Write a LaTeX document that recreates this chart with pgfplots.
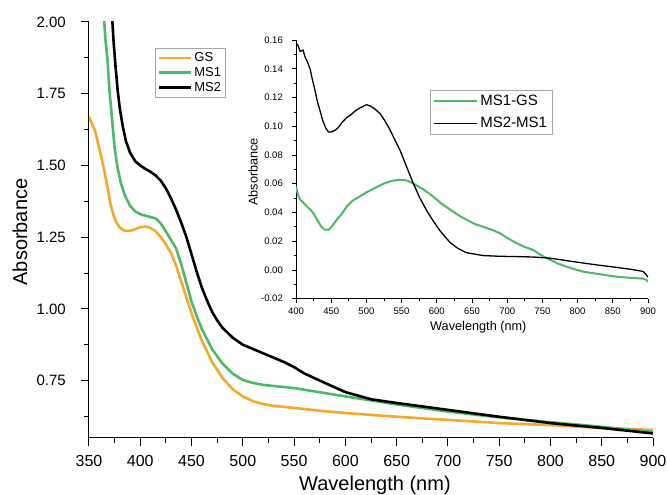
\documentclass[border=0pt]{standalone}
\usepackage{fontspec}
\setmainfont{Liberation Sans}
\usepackage{pgfplots}
\pgfplotsset{compat=1.18}

\definecolor{gsorange}{HTML}{F5A82E}
\definecolor{msgreen}{HTML}{4DB86A}

\begin{document}
\begin{tikzpicture}
\useasboundingbox (-89pt,-57pt) rectangle (578pt,438pt);
% main panel
\begin{axis}[
    name=main,
    at={(0pt,0pt)}, anchor=south west,
    scale only axis,
    width=564pt, height=416pt,
    xmin=350, xmax=900, ymin=0.55, ymax=2.0,
    axis x line*=bottom, axis y line*=left,
    axis line style={-, line width=1pt},
    xtick={350,400,...,900},
    minor xtick={375,425,...,875},
    ytick={0.75,1.0,1.25,1.5,1.75,2.0},
    minor ytick={0.625,0.875,1.125,1.375,1.625,1.875},
    tick align=outside,
    major tick length=8pt, minor tick length=5pt,
    tick style={line width=1pt, black},
    yticklabel style={/pgf/number format/fixed, /pgf/number format/fixed zerofill,
        /pgf/number format/precision=2, font=\fontsize{15}{17}\selectfont,
        anchor=east, inner sep=0pt, xshift=-15pt},
    xticklabel style={font=\fontsize{16}{18}\selectfont,
        anchor=north, inner sep=0pt, yshift=-9pt},
    /pgf/number format/assume math mode=true,
    xlabel={Wavelength (nm)}, ylabel={Absorbance},
    xlabel style={font=\fontsize{20}{24}\selectfont,
        at={(axis description cs:0.507,-0.114)}, anchor=center},
    ylabel style={font=\fontsize{20}{24}\selectfont,
        at={(axis description cs:-0.1223,0.495)}, anchor=center, rotate=0},
    legend style={at={(axis description cs:0.117,0.9375)}, anchor=north west,
        draw=gray!70, line width=0.6pt, font=\fontsize{13}{15}\selectfont,
        row sep=0pt, inner sep=2.5pt},
    legend cell align=left,
    legend image code/.code={\draw[#1] (0pt,0pt) -- (32pt,0pt);},
]
\addplot[gsorange, line width=2.6pt] coordinates {
(350,1.67) (353,1.645) (356,1.62) (359,1.575) (362,1.53) (365,1.48) (368,1.425)
(371,1.365) (374,1.325) (377,1.30) (380,1.283) (385,1.272) (390,1.272) (395,1.278)
(400,1.285) (405,1.287) (410,1.282) (415,1.27) (420,1.25) (425,1.225) (430,1.195)
(435,1.15) (440,1.095) (445,1.04) (450,0.985) (455,0.935) (460,0.89) (470,0.815)
(480,0.76) (490,0.72) (500,0.695) (510,0.678) (520,0.668) (530,0.662) (550,0.655)
(575,0.645) (600,0.637) (650,0.624) (700,0.613) (750,0.602) (800,0.595) (850,0.585) (900,0.578)};
\addlegendentry{GS}
\addplot[msgreen, line width=2.6pt] coordinates {
(364,2.05) (366,1.94) (368,1.87) (370,1.76) (372,1.68) (375,1.56) (378,1.49)
(381,1.44) (385,1.395) (390,1.36) (395,1.34) (400,1.33) (405,1.325) (410,1.32)
(415,1.315) (420,1.298) (425,1.27) (430,1.24) (435,1.21) (440,1.155) (445,1.09)
(450,1.025) (455,0.975) (460,0.93) (470,0.86) (480,0.81) (490,0.775) (500,0.752)
(510,0.742) (520,0.735) (550,0.724) (600,0.695) (650,0.667) (700,0.642) (750,0.622)
(800,0.605) (850,0.589) (900,0.571)};
\addlegendentry{MS1}
\addplot[black, line width=2.6pt] coordinates {
(372,2.05) (374,1.93) (376,1.84) (378,1.76) (380,1.70) (383,1.635) (386,1.585)
(390,1.545) (395,1.515) (400,1.50) (405,1.488) (410,1.478) (415,1.465) (420,1.447)
(425,1.42) (430,1.385) (435,1.345) (440,1.30) (445,1.25) (450,1.19) (455,1.13)
(460,1.075) (465,1.03) (470,0.99) (475,0.96) (480,0.935) (490,0.90) (500,0.875)
(510,0.86) (520,0.845) (530,0.83) (540,0.815) (550,0.797) (560,0.775) (575,0.75)
(600,0.71) (625,0.685) (650,0.672) (700,0.648) (750,0.624) (800,0.602) (850,0.585) (900,0.566)};
\addlegendentry{MS2}
\end{axis}

% inset panel
\begin{axis}[
    at={(207pt,139.3pt)}, anchor=south west,
    scale only axis,
    width=352pt, height=258.7pt,
    xmin=400, xmax=900, ymin=-0.02, ymax=0.16,
    axis x line*=bottom, axis y line*=left,
    axis line style={-, line width=0.8pt},
    xtick={400,450,...,900},
    minor xtick={425,475,...,875},
    ytick={-0.02,0,0.02,0.04,0.06,0.08,0.10,0.12,0.14,0.16},
    minor ytick={-0.01,0.01,0.03,0.05,0.07,0.09,0.11,0.13,0.15},
    tick align=outside,
    major tick length=4pt, minor tick length=2.5pt,
    tick style={line width=0.7pt, black},
    yticklabel style={/pgf/number format/fixed, /pgf/number format/fixed zerofill,
        /pgf/number format/precision=2, font=\fontsize{9.5}{11}\selectfont,
        anchor=east, inner sep=0pt, xshift=-9pt},
    xticklabel style={font=\fontsize{9.5}{11}\selectfont,
        anchor=north, inner sep=0pt, yshift=-5pt},
    /pgf/number format/assume math mode=true,
    xlabel={Wavelength (nm)}, ylabel={Absorbance},
    xlabel style={font=\fontsize{12.7}{15}\selectfont,
        at={(axis description cs:0.518,-0.11)}, anchor=center},
    ylabel style={font=\fontsize{12.7}{15}\selectfont,
        at={(axis description cs:-0.122,0.49)}, anchor=center, rotate=0},
    legend style={at={(axis description cs:0.381,0.807)}, anchor=north west,
        draw=gray!70, line width=0.6pt, font=\fontsize{15}{17}\selectfont,
        row sep=6pt, inner sep=3pt},
    legend cell align=left,
    legend image code/.code={\draw[#1] (0pt,0pt) -- (43pt,0pt);},
]
\addplot[msgreen, line width=2pt] coordinates {
(400,0.058) (403,0.052) (406,0.049) (412,0.046) (418,0.043) (424,0.040) (430,0.035)
(436,0.030) (441,0.028) (447,0.028) (452,0.031) (458,0.035) (465,0.039) (472,0.044)
(480,0.048) (490,0.051) (500,0.054) (512,0.057) (524,0.060) (536,0.062) (548,0.0628)
(558,0.0622) (567,0.060) (581,0.056) (595,0.051) (607,0.046) (619,0.042) (631,0.038)
(642,0.035) (654,0.032) (666,0.030) (678,0.028) (690,0.0255) (701,0.022) (713,0.0187)
(725,0.016) (737,0.0139) (749,0.010) (761,0.007) (772,0.0045) (784,0.0023) (796,0.0005)
(808,-0.0012) (832,-0.003) (855,-0.0047) (875,-0.0055) (893,-0.006) (898,-0.007) (900,-0.0085)};
\addlegendentry{MS1-GS}
\addplot[black, line width=1.3pt] coordinates {
(400,0.158) (403,0.156) (406,0.152) (410,0.153) (413,0.148) (416,0.145) (420,0.14)
(423,0.133) (427,0.125) (430,0.118) (434,0.111) (438,0.104) (442,0.099) (446,0.096)
(450,0.096) (455,0.097) (460,0.099) (466,0.103) (472,0.106) (478,0.108) (485,0.111)
(492,0.113) (500,0.115) (506,0.114) (512,0.112) (519,0.109) (526,0.104) (533,0.098)
(540,0.091) (548,0.083) (557,0.072) (566,0.061) (576,0.050) (586,0.041) (595,0.034)
(605,0.027) (619,0.019) (630,0.015) (642,0.012) (666,0.010) (690,0.0095) (713,0.0093)
(737,0.0090) (761,0.0082) (784,0.0065) (808,0.0048) (832,0.0032) (855,0.0018)
(875,0.0005) (893,-0.001) (897,-0.003) (900,-0.005)};
\addlegendentry{MS2-MS1}
\end{axis}
\end{tikzpicture}
\end{document}
